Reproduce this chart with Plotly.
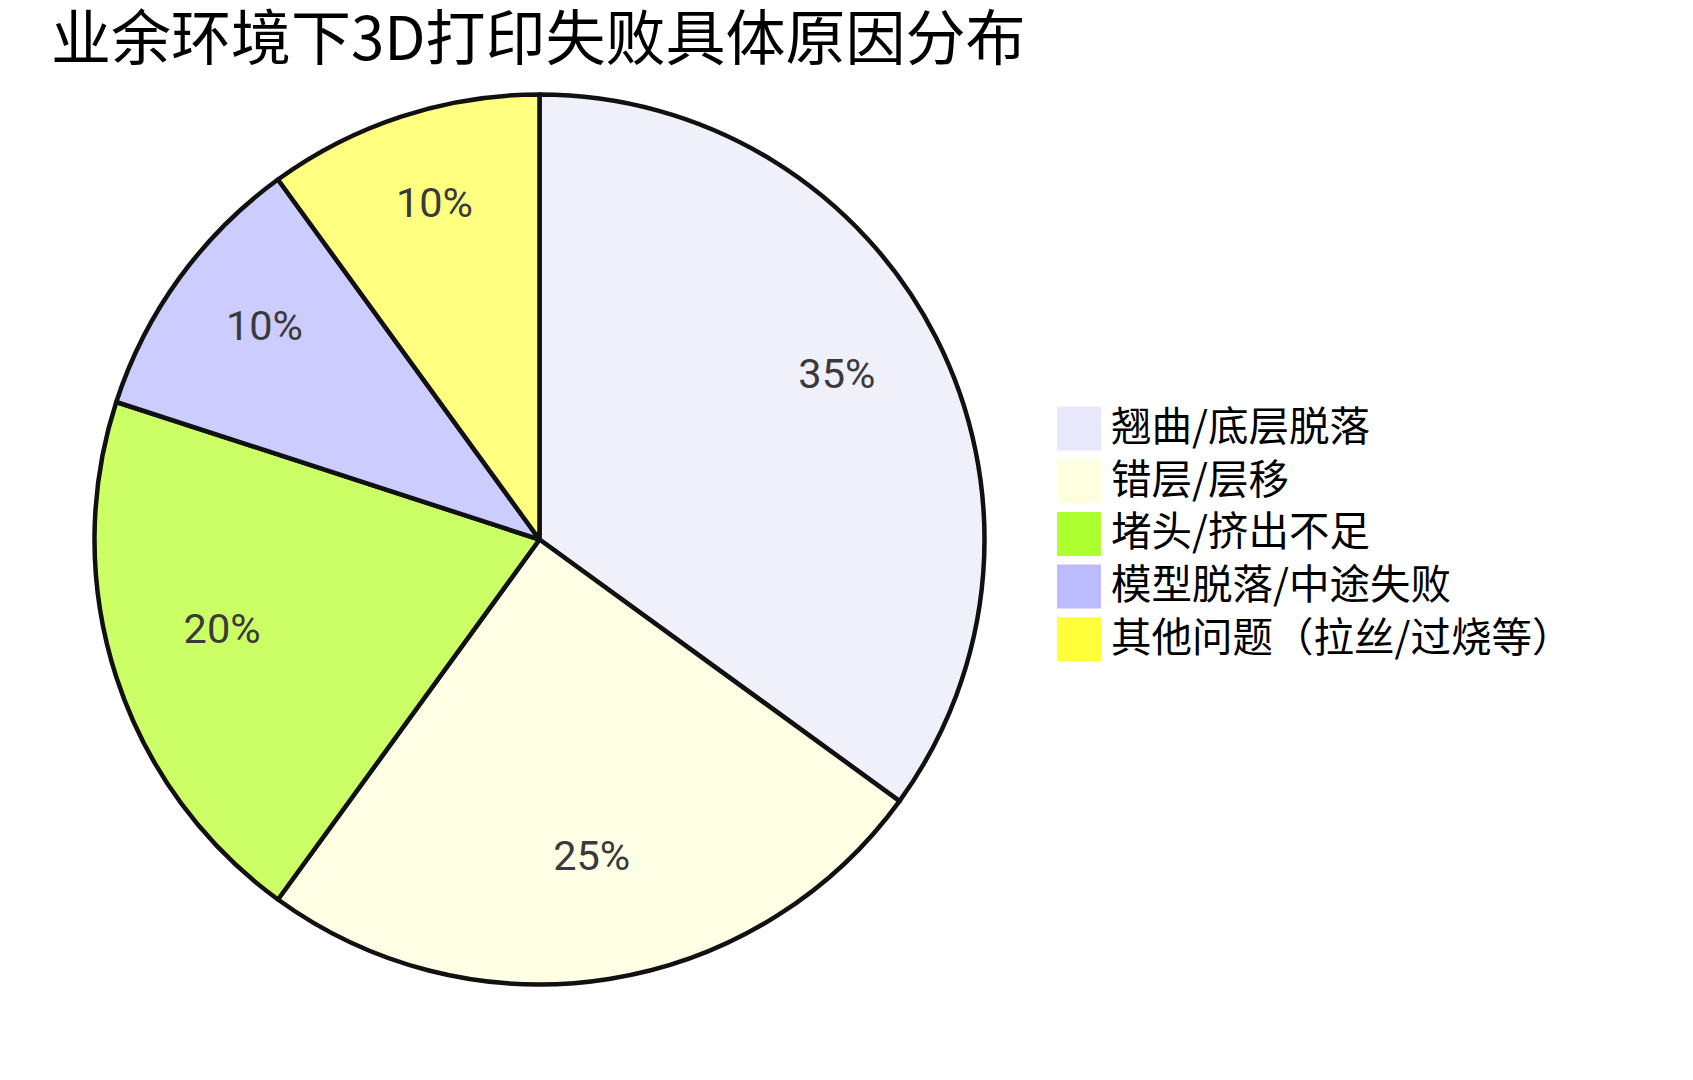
import plotly.graph_objects as go

# ---- data ----
categories = ["翘曲/底层脱落", "错层/层移", "堵头/挤出不足", "模型脱落/中途失败", "其他问题（拉丝/过烧等）"]
shares = [35, 25, 20, 10, 10]
slice_colors = ["#F0F0FA", "#FFFFE6", "#CCFF66", "#CCCCFF", "#FFFF80"]
legend_colors = ["#E8E8FA", "#FFFFE0", "#ADFF2F", "#BBBBFF", "#FFFF3A"]
title_text = "业余环境下3D打印失败具体原因分布"

W, H = 1693, 1080
CJK = "Noto Sans CJK SC"

pie_l, pie_t, pie_d = 86.5, 86.5, 890
dom = dict(x=[pie_l / W, (pie_l + pie_d) / W], y=[1 - (pie_t + pie_d) / H, 1 - pie_t / H])
lab_up = 14  # label ring sits slightly higher, as in the reference
dom_lab = dict(x=dom["x"], y=[dom["y"][0] + lab_up / H, dom["y"][1] + lab_up / H])

fig = go.Figure()
# slices
fig.add_trace(go.Pie(
    labels=categories,
    values=shares,
    sort=False,
    direction="clockwise",
    rotation=0,
    marker=dict(colors=slice_colors, line=dict(color="#111111", width=4.5)),
    textinfo="none",
    domain=dom,
    showlegend=False,
    hoverinfo="label+percent",
))
# percentage labels, placed in the outer ring of the same pie
fig.add_trace(go.Pie(
    labels=categories,
    values=shares,
    sort=False,
    direction="clockwise",
    rotation=0,
    hole=0.5,
    marker=dict(colors=["rgba(0,0,0,0)"] * len(shares), line=dict(width=0)),
    textinfo="percent",
    texttemplate="%{percent:.0%}",
    textposition="inside",
    insidetextorientation="horizontal",
    textfont=dict(family="Roboto", size=41.5, color="#3a3a3a"),
    domain=dom_lab,
    showlegend=False,
    hoverinfo="skip",
))

# ---- custom legend (large swatches, no borders) ----
shapes = []
top0 = 398.5
step = 52.7
sw = 44
sx = 1049
for i, col in enumerate(legend_colors):
    top = top0 + i * step
    shapes.append(dict(
        type="rect", xref="paper", yref="paper",
        x0=sx / W, x1=(sx + sw) / W,
        y0=1 - (top + sw) / H, y1=1 - top / H,
        fillcolor=col, line=dict(width=0), layer="above",
    ))
legend_block = dict(
    text="<br>".join(categories), xref="paper", yref="paper",
    x=1101 / W, y=1 - (top0 + 2 * step + sw / 2 - 5) / H,
    xanchor="left", yanchor="middle", align="left", showarrow=False,
    font=dict(family=CJK, size=40.5, color="#000000"),
)

fig.update_layout(
    width=W, height=H,
    margin=dict(l=0, r=0, t=0, b=0),
    paper_bgcolor="#FFFFFF",
    plot_bgcolor="#FFFFFF",
    title=dict(
        text=title_text,
        x=43 / W, xanchor="left", xref="container",
        y=1 - 31 / H, yanchor="middle", yref="container",
        font=dict(family=CJK, size=60, color="#000000"),
    ),
    shapes=shapes,
    annotations=[legend_block],
    showlegend=False,
)

fig.write_html("out.html")
